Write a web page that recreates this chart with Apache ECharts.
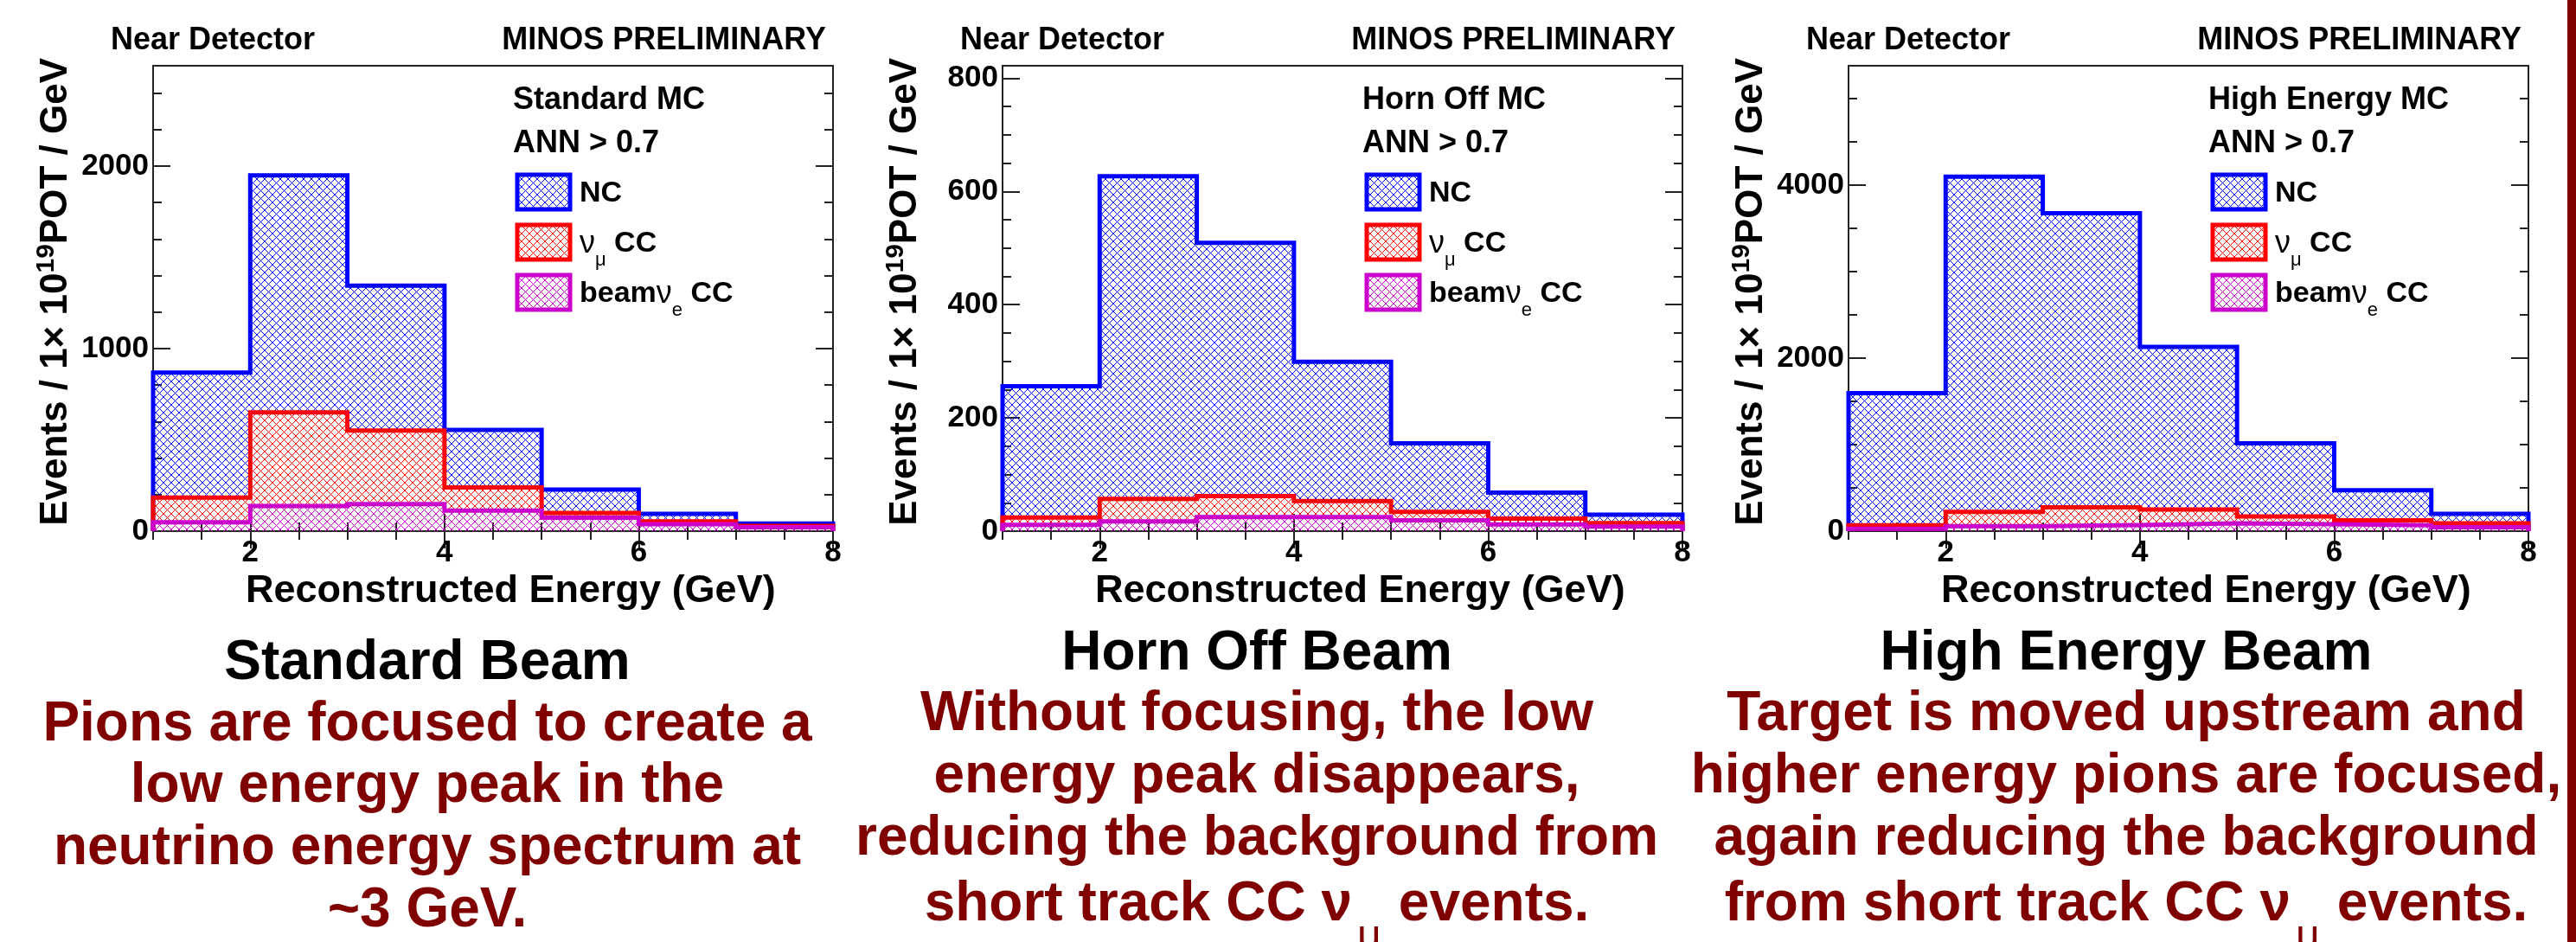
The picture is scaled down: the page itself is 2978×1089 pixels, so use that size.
<!DOCTYPE html>
<html><head><meta charset="utf-8">
<script src="https://cdn.jsdelivr.net/npm/echarts@6/dist/echarts.min.js"></script>
<style>html,body{margin:0;padding:0;background:#fff}#c{width:2978px;height:1089px}</style>
</head><body><div id="c"></div>
<script>
// ---------- data ----------
const binEdges = [1, 2, 3, 4, 5, 6, 7, 8];
const xTickLabels = [2, 4, 6, 8];
const seriesNames = ['NC', 'numu CC', 'beam nue CC'];
const panelMC = ['Standard MC', 'Horn Off MC', 'High Energy MC'];
const cutLabel = 'ANN > 0.7';

const std_NC     = [869, 1949, 1345, 555, 227, 95, 42];
const std_numuCC = [184, 650, 551, 239, 100, 53, 28];
const std_nueCC  = [49, 138, 148, 112, 74, 38, 21];

const off_NC     = [256, 627, 509, 299, 155, 68, 29];
const off_numuCC = [24, 57, 62, 53, 34, 22, 14];
const off_nueCC  = [11, 17, 25, 25, 19, 12, 8];

const he_NC      = [1595, 4098, 3675, 2129, 1016, 472, 200];
const he_numuCC  = [67, 223, 276, 249, 169, 125, 89];
const he_nueCC   = [27, 58, 71, 89, 80, 67, 45];

const yMax = [2550, 822, 5380];
const yMajorTicks = [[0, 1000, 2000], [0, 200, 400, 600, 800], [0, 2000, 4000]];
const yMinorStep = [200, 50, 500];
const xMinorStep = 0.5;

const captionTitles = ['Standard Beam', 'Horn Off Beam', 'High Energy Beam'];
const captionLines = [
  ['Pions are focused to create a', 'low energy peak in the', 'neutrino energy spectrum at', '~3 GeV.'],
  ['Without focusing, the low', 'energy peak disappears,', 'reducing the background from', ['short track CC \u03bd', '\u03bc', ' events.']],
  ['Target is moved upstream and', 'higher energy pions are focused,', 'again reducing the background', ['from short track CC \u03bd', '\u03bc', ' events.']]
];

// ---------- layout / style ----------
const W = 2978, H = 1089;
const gridL = [177, 1159, 2137];
const gridW = 786, gridT = 76, gridH = 538;
const capCenter = [494, 1453, 2458];
const capTitleY = [[767], [756], [756]];
const capLineY = [[838, 909, 981, 1053], [826, 898, 970, 1046], [826, 898, 970, 1046]];
const colors = ['#0000ff', '#ff0000', '#cc00cc'];
const darkRed = '#800000';
const FONT = '"Liberation Sans", Arial, Helvetica, sans-serif';

function hatch(color) {
  const s = 9;
  const c = document.createElement('canvas');
  c.width = s; c.height = s;
  const ctx = c.getContext('2d');
  ctx.strokeStyle = color; ctx.lineWidth = 1;
  ctx.beginPath();
  ctx.moveTo(0, 0); ctx.lineTo(s, s);
  ctx.moveTo(s, 0); ctx.lineTo(0, s);
  ctx.stroke();
  return { image: c, repeat: 'repeat' };
}

function histData(vals) {
  const d = [[binEdges[0], 0]];
  for (let i = 0; i < vals.length; i++) d.push([binEdges[i], vals[i]]);
  d.push([binEdges[binEdges.length - 1], vals[vals.length - 1]]);
  d.push([binEdges[binEdges.length - 1], 0]);
  return d;
}

const panelData = [
  [std_NC, std_numuCC, std_nueCC],
  [off_NC, off_numuCC, off_nueCC],
  [he_NC, he_numuCC, he_nueCC]
];

const measureCtx = document.createElement('canvas').getContext('2d');
function textW(str, size, weight) {
  measureCtx.font = (weight || 'bold') + ' ' + size + 'px ' + FONT;
  return measureCtx.measureText(str).width;
}

const grids = [], xAxes = [], yAxes = [], series = [], graphics = [];
const tickColor = '#222';
const plainNum = v => String(v);

for (let p = 0; p < 3; p++) {
  const L = gridL[p];
  grids.push({ left: L, top: gridT, width: gridW, height: gridH, show: true,
    borderColor: tickColor, borderWidth: 2, backgroundColor: 'transparent', containLabel: false });

  const xBase = { gridIndex: p, type: 'value', min: binEdges[0], max: binEdges[binEdges.length - 1],
    axisLine: { show: false }, splitLine: { show: false } };
  const xMajorIdx = xAxes.length;
  xAxes.push(Object.assign({}, xBase, { position: 'bottom',
    axisTick: { show: true, inside: true, length: 20, customValues: xTickLabels, lineStyle: { color: tickColor, width: 2 } },
    axisLabel: { show: true, customValues: xTickLabels, formatter: plainNum, margin: 8, fontSize: 35, fontWeight: 'bold', color: '#000', fontFamily: FONT } }));
  xAxes.push(Object.assign({}, xBase, { position: 'bottom', interval: xMinorStep,
    axisTick: { show: true, inside: true, length: 10, lineStyle: { color: tickColor, width: 2 } }, axisLabel: { show: false } }));
  xAxes.push(Object.assign({}, xBase, { position: 'top',
    axisTick: { show: true, inside: true, length: 20, customValues: xTickLabels, lineStyle: { color: tickColor, width: 2 } }, axisLabel: { show: false } }));
  xAxes.push(Object.assign({}, xBase, { position: 'top', interval: xMinorStep,
    axisTick: { show: true, inside: true, length: 10, lineStyle: { color: tickColor, width: 2 } }, axisLabel: { show: false } }));

  const yBase = { gridIndex: p, type: 'value', min: 0, max: yMax[p],
    axisLine: { show: false, onZero: false }, splitLine: { show: false } };
  const yMajorIdx = yAxes.length;
  yAxes.push(Object.assign({}, yBase, { position: 'left',
    axisTick: { show: true, inside: true, length: 20, customValues: yMajorTicks[p], lineStyle: { color: tickColor, width: 2 } },
    axisLabel: { show: true, customValues: yMajorTicks[p], formatter: plainNum, margin: 5, fontSize: 35, fontWeight: 'bold', color: '#000', fontFamily: FONT } }));
  yAxes.push(Object.assign({}, yBase, { position: 'left', interval: yMinorStep[p],
    axisTick: { show: true, inside: true, length: 10, lineStyle: { color: tickColor, width: 2 } }, axisLabel: { show: false } }));
  yAxes.push(Object.assign({}, yBase, { position: 'right',
    axisTick: { show: true, inside: true, length: 20, customValues: yMajorTicks[p], lineStyle: { color: tickColor, width: 2 } }, axisLabel: { show: false } }));
  yAxes.push(Object.assign({}, yBase, { position: 'right', interval: yMinorStep[p],
    axisTick: { show: true, inside: true, length: 10, lineStyle: { color: tickColor, width: 2 } }, axisLabel: { show: false } }));

  for (let s = 0; s < 3; s++) {
    series.push({
      name: seriesNames[s], type: 'line', step: 'end', symbol: 'none',
      xAxisIndex: xMajorIdx, yAxisIndex: yMajorIdx, z: 2 + s,
      data: histData(panelData[p][s]),
      lineStyle: { color: colors[s], width: 5, join: 'miter' },
      itemStyle: { color: colors[s] },
      areaStyle: { color: hatch(colors[s]), opacity: 1 },
      animation: false, silent: true
    });
  }

  // header texts
  graphics.push({ type: 'text', x: L - 49, y: 47, style: { text: 'Near Detector', font: 'bold 36px ' + FONT, fill: '#000', textAlign: 'left', textVerticalAlign: 'middle' } });
  graphics.push({ type: 'text', x: L + 778, y: 47, style: { text: 'MINOS PRELIMINARY', font: 'bold 36px ' + FONT, fill: '#000', textAlign: 'right', textVerticalAlign: 'middle' } });
  // legend header
  graphics.push({ type: 'text', x: L + 416, y: 116, style: { text: panelMC[p], font: 'bold 36px ' + FONT, fill: '#000', textAlign: 'left', textVerticalAlign: 'middle' } });
  graphics.push({ type: 'text', x: L + 416, y: 166, style: { text: cutLabel, font: 'bold 36px ' + FONT, fill: '#000', textAlign: 'left', textVerticalAlign: 'middle' } });
  // legend entries
  const legY = [200, 258, 316];
  const legTexts = ['{t|NC}', '{g|\u03bd}{sub|\u03bc}{t| CC}', '{t|beam}{g|\u03bd}{sub|e}{t| CC}'];
  for (let s = 0; s < 3; s++) {
    graphics.push({ type: 'rect', shape: { x: L + 421, y: legY[s] + 2, width: 61, height: 40 },
      style: { fill: hatch(colors[s]), stroke: colors[s], lineWidth: 5 }, z: 10 });
    graphics.push({ type: 'text', x: L + 493, y: legY[s] + 2, z: 10, style: {
      text: legTexts[s], textAlign: 'left', textVerticalAlign: 'top',
      rich: {
        t: { fontSize: 34, fontWeight: 'bold', fontFamily: FONT, fill: '#000', lineHeight: 44 },
        g: { fontSize: 36, fontWeight: 'normal', fontFamily: FONT, fill: '#000', lineHeight: 44 },
        sub: { fontSize: 22, fontWeight: 'normal', fontFamily: FONT, fill: '#000', lineHeight: 22, verticalAlign: 'bottom', padding: [0, 0, -8, 0] }
      } } });
  }
  // axis titles
  graphics.push({ type: 'text', x: L + 107, y: 684, style: { text: 'Reconstructed Energy (GeV)', font: 'bold 45px ' + FONT, fill: '#000', textAlign: 'left', textVerticalAlign: 'middle' } });
  graphics.push({ type: 'text', x: L - 112, y: 67, rotation: Math.PI / 2, style: {
    text: '{t|Events / 1\u00d7 10}{sup|19}{t|POT / GeV}', textAlign: 'right', textVerticalAlign: 'middle',
    rich: {
      t: { fontSize: 44, fontWeight: 'bold', fontFamily: FONT, fill: '#000', lineHeight: 52 },
      sup: { fontSize: 30, fontWeight: 'bold', fontFamily: FONT, fill: '#000', lineHeight: 30, verticalAlign: 'top' }
    } } });

  // captions
  graphics.push({ type: 'text', x: capCenter[p], y: capTitleY[p][0], style: { text: captionTitles[p], font: 'bold 64px ' + FONT, fill: '#000', textAlign: 'center', textVerticalAlign: 'middle' } });
  captionLines[p].forEach((ln, i) => {
    const y = capLineY[p][i];
    if (typeof ln === 'string') {
      graphics.push({ type: 'text', x: capCenter[p], y: y, style: { text: ln, font: 'bold 64px ' + FONT, fill: darkRed, textAlign: 'center', textVerticalAlign: 'middle' } });
    } else {
      const wA = textW(ln[0], 64), wB = textW(ln[2], 64), gap = 36;
      const x0 = capCenter[p] - (wA + gap + wB) / 2;
      graphics.push({ type: 'text', x: x0, y: y, style: { text: ln[0], font: 'bold 64px ' + FONT, fill: darkRed, textAlign: 'left', textVerticalAlign: 'middle' } });
      graphics.push({ type: 'text', x: x0 + wA + 6, y: y + 14, style: { text: ln[1], font: 'normal 48px ' + FONT, fill: darkRed, textAlign: 'left', textVerticalAlign: 'top' } });
      graphics.push({ type: 'text', x: x0 + wA + gap, y: y, style: { text: ln[2], font: 'bold 64px ' + FONT, fill: darkRed, textAlign: 'left', textVerticalAlign: 'middle' } });
    }
  });
}

// right edge bar
graphics.push({ type: 'rect', shape: { x: 2968, y: 0, width: 10, height: H }, style: { fill: darkRed } });

const chart = echarts.init(document.getElementById('c'), null, { renderer: 'canvas', width: W, height: H });
chart.setOption({
  animation: false,
  backgroundColor: '#fff',
  grid: grids,
  xAxis: xAxes,
  yAxis: yAxes,
  series: series,
  graphic: { elements: graphics }
});
</script>
</body></html>
